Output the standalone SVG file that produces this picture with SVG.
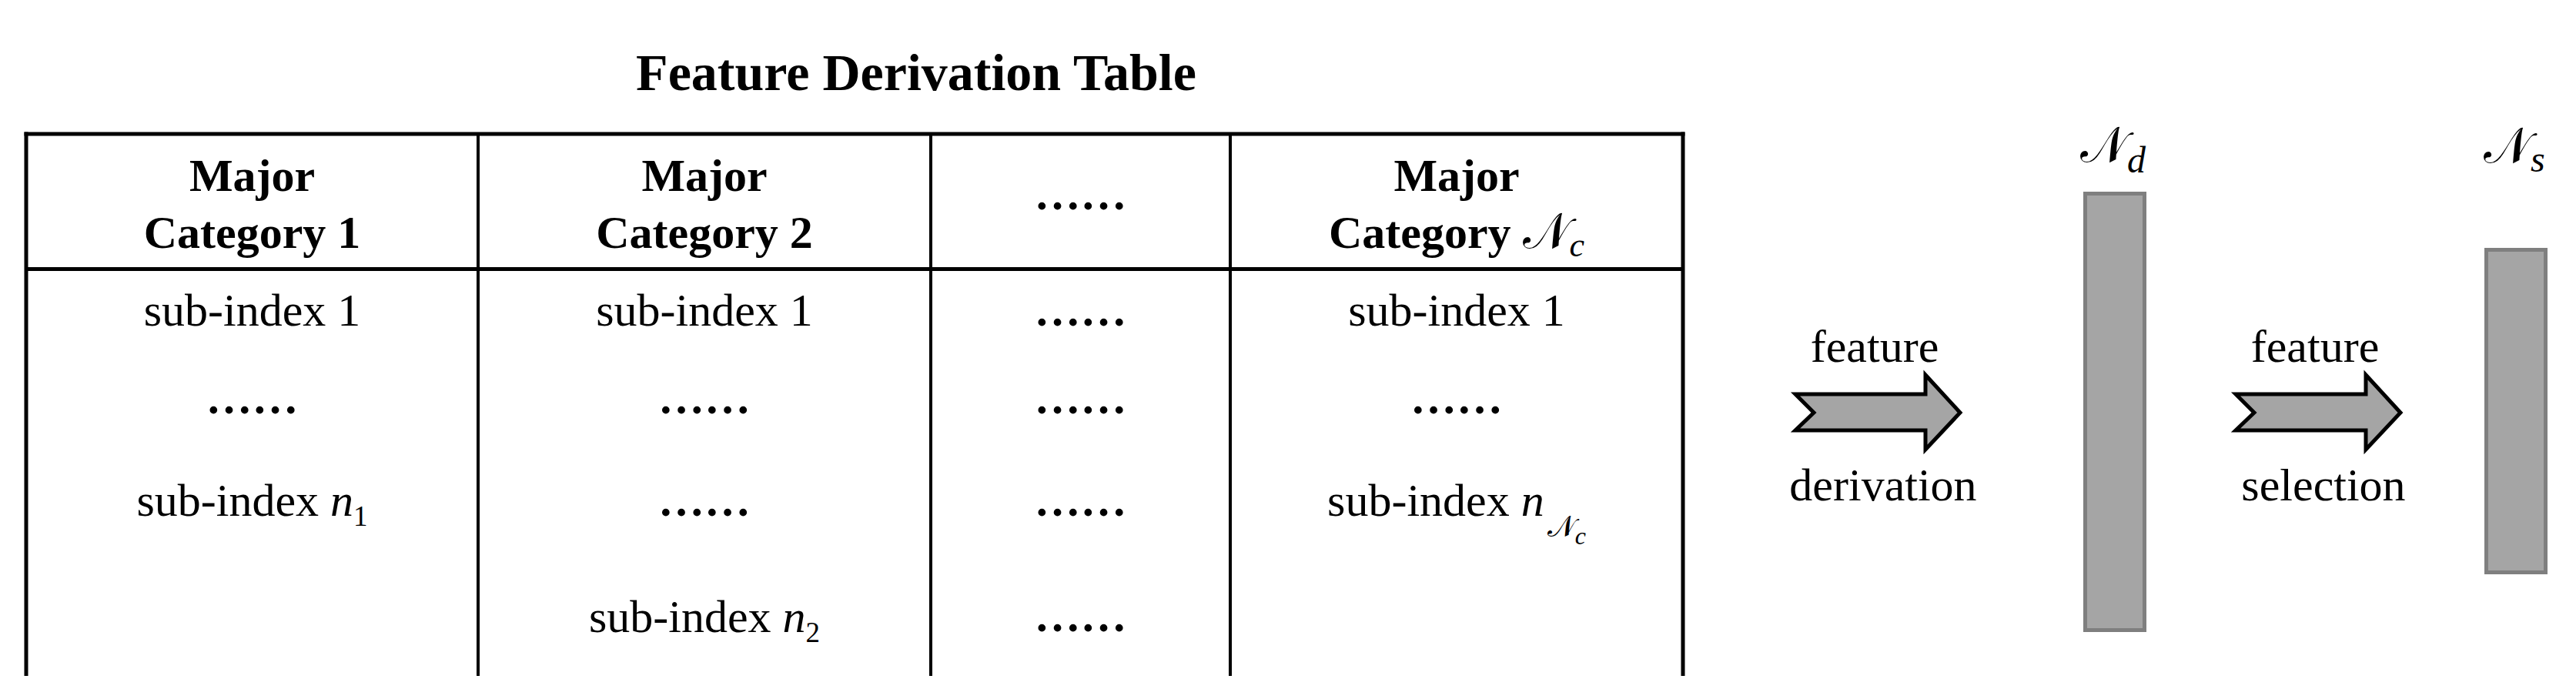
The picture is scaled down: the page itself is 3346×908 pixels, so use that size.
<svg xmlns="http://www.w3.org/2000/svg" width="3346" height="908" viewBox="0 0 3346 908">
<style>
.t{font-family:"Liberation Serif","Times New Roman",serif;fill:#000;font-size:60px}
.b{font-weight:bold}
.i{font-style:italic;font-weight:normal}
.m{font-family:"DejaVu Serif","DejaVu Sans","Noto Sans",serif;font-weight:normal;font-style:normal}
.ln{stroke:#000;fill:none}
.bar{fill:#a5a5a5;stroke:#7f7f7f;stroke-width:5}
.arr{fill:#a5a5a5;stroke:#000;stroke-width:5;stroke-linejoin:miter}
</style>
<rect width="3346" height="908" fill="#fff"/>
<g id="title">
<text class="t b" x="1190" y="117" text-anchor="middle" style="font-size:68px">Feature Derivation Table</text>
</g>
<g id="table-grid">
<line class="ln" x1="31.5" y1="174" x2="2188.5" y2="174" stroke-width="5"/>
<line class="ln" x1="34" y1="349.5" x2="2186" y2="349.5" stroke-width="5"/>
<line class="ln" x1="34" y1="171.5" x2="34" y2="878" stroke-width="5"/>
<line class="ln" x1="2186" y1="171.5" x2="2186" y2="878" stroke-width="5"/>
<line class="ln" x1="621" y1="174" x2="621" y2="878" stroke-width="4"/>
<line class="ln" x1="1209" y1="174" x2="1209" y2="878" stroke-width="4"/>
<line class="ln" x1="1598" y1="174" x2="1598" y2="878" stroke-width="4"/>
</g>
<g id="col1">
<text class="t b" x="327.5" y="248" text-anchor="middle">Major</text>
<text class="t b" x="327.5" y="322" text-anchor="middle">Category 1</text>
<text class="t" x="327.5" y="423" text-anchor="middle">sub-index 1</text>
<text class="t b" x="327.5" y="537" text-anchor="middle">……</text>
<text class="t" x="327.5" y="670" text-anchor="middle">sub-index <tspan class="i">n</tspan><tspan style="font-size:37px" dy="13">1</tspan></text>
</g>
<g id="col2">
<text class="t b" x="915" y="248" text-anchor="middle">Major</text>
<text class="t b" x="915" y="322" text-anchor="middle">Category 2</text>
<text class="t" x="915" y="423" text-anchor="middle">sub-index 1</text>
<text class="t b" x="915" y="537" text-anchor="middle">……</text>
<text class="t b" x="915" y="670" text-anchor="middle">……</text>
<text class="t" x="915" y="821" text-anchor="middle">sub-index <tspan class="i">n</tspan><tspan style="font-size:37px" dy="13">2</tspan></text>
</g>
<g id="col3">
<text class="t b" x="1403.5" y="272" text-anchor="middle">……</text>
<text class="t b" x="1403.5" y="423" text-anchor="middle">……</text>
<text class="t b" x="1403.5" y="537" text-anchor="middle">……</text>
<text class="t b" x="1403.5" y="670" text-anchor="middle">……</text>
<text class="t b" x="1403.5" y="820" text-anchor="middle">……</text>
</g>
<g id="col4">
<text class="t b" x="1892" y="248" text-anchor="middle">Major</text>
<text class="t b" x="1892" y="322" text-anchor="middle">Category <tspan class="m" style="font-size:64px">𝒩</tspan><tspan class="i" style="font-size:44px" dy="11">c</tspan></text>
<text class="t" x="1892" y="423" text-anchor="middle">sub-index 1</text>
<text class="t b" x="1892" y="537" text-anchor="middle">……</text>
<text class="t" x="1892" y="670" text-anchor="middle">sub-index <tspan class="i">n</tspan><tspan class="m" style="font-size:38px" dy="27" dx="4">𝒩</tspan><tspan class="i" style="font-size:32px" dy="10">c</tspan></text>
</g>
<g id="connectors">
<g id="arrow-derivation">
<polygon class="arr" points="2332,512 2356,536 2332,559 2501,559 2501,584 2546,536 2501,487 2501,512"/>
<text class="t" x="2435" y="470" text-anchor="middle">feature</text>
<text class="t" x="2446" y="650" text-anchor="middle">derivation</text>
</g>
<g id="arrow-selection">
<polygon class="arr" points="2904,512 2928,536 2904,559 3073,559 3073,584 3118,536 3073,487 3073,512"/>
<text class="t" x="3007" y="470" text-anchor="middle">feature</text>
<text class="t" x="3018" y="650" text-anchor="middle">selection</text>
</g>
</g>
<g id="node-Nd">
<rect class="bar" x="2708.5" y="251.5" width="77" height="567"/>
<text class="t" x="2702" y="210"><tspan class="m" style="font-size:64px">𝒩</tspan><tspan class="i" style="font-size:48px" dy="14">d</tspan></text>
</g>
<g id="node-Ns">
<rect class="bar" x="3229.5" y="324.5" width="77" height="419"/>
<text class="t" x="3226" y="211"><tspan class="m" style="font-size:64px">𝒩</tspan><tspan class="i" style="font-size:48px" dy="12">s</tspan></text>
</g>
</svg>
